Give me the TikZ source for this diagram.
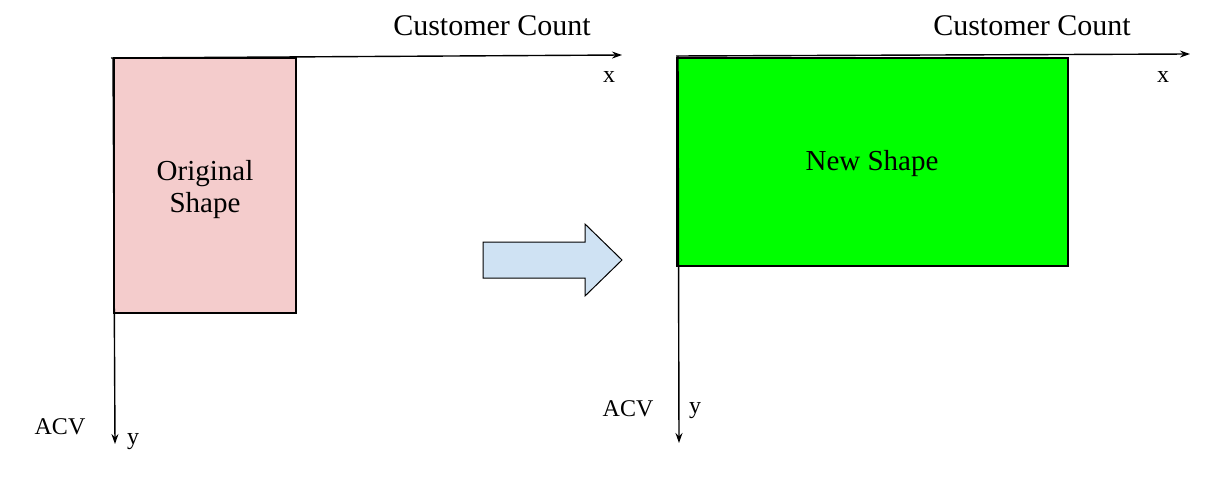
\documentclass[tikz,border=0pt]{standalone}
\usepackage{fontspec}
\setmainfont{Liberation Serif}
\usetikzlibrary{arrows.meta}
\definecolor{pinkfill}{HTML}{F4CCCC}
\definecolor{bluefill}{HTML}{CFE2F3}
\definecolor{greenfill}{HTML}{00FF00}
\tikzset{
  axisline/.style={line width=1.4pt,-{Stealth[length=10pt,width=7pt]}},
  shapebox/.style={draw,line width=1.2pt},
  big/.style={font=\fontsize{29}{32}\selectfont,align=center,inner sep=0pt},
  cc/.style={font=\fontsize{30}{32}\selectfont,inner sep=0pt},
  small/.style={font=\fontsize{24}{28}\selectfont,inner sep=0pt},
}
\begin{document}
\begin{tikzpicture}[x=1pt,y=-1pt]
\useasboundingbox (0,0) rectangle (1228,484);
% left panel
\coordinate (lo) at (111,58);
\coordinate (lx) at (622,55);
\coordinate (lyo) at (113,58);
\coordinate (ly) at (115,444);
\node[shapebox,fill=pinkfill,minimum width=182pt,minimum height=255pt,inner sep=0pt] (orig) at (205,185.5) {};
\draw[axisline] (lo) -- (lx);
\draw[axisline] (lyo) -- (ly);
\node[big] (origt) at (205,190) {Original\\Shape};
\node[cc] (lcc) at (492,26) {Customer Count};
\node[small] (lxl) at (609,77) {x};
\node[small] (lacv) at (60,427) {ACV};
\node[small] (lyl) at (133,442) {y};
% middle arrow
\draw[line width=1pt,fill=bluefill,line join=miter] (483,242) -- (585,242) -- (585,224) -- (622,260) -- (585,296) -- (585,278) -- (483,278) -- cycle;
% right panel
\coordinate (ro) at (676,56);
\coordinate (rx) at (1190,54);
\coordinate (ryo) at (678,56);
\coordinate (ry) at (679,443);
\node[shapebox,fill=greenfill,minimum width=391pt,minimum height=208pt,inner sep=0pt] (newr) at (872.5,162) {};
\draw[axisline] (ro) -- (rx);
\draw[axisline] (ryo) -- (ry);
\node[big] (newt) at (872,164) {New Shape};
\node[cc] (rcc) at (1032,26) {Customer Count};
\node[small] (rxl) at (1163,77) {x};
\node[small] (racv) at (628,409) {ACV};
\node[small] (ryl) at (695,411) {y};
\end{tikzpicture}
\end{document}
